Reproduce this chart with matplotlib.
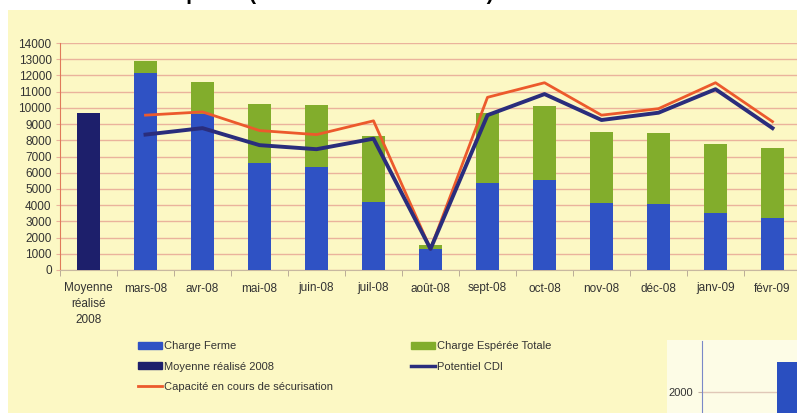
import matplotlib.pyplot as plt
import numpy as np
from matplotlib.patches import Rectangle
from matplotlib.lines import Line2D
from matplotlib.patches import Patch

plt.rcParams['font.family'] = ['Liberation Sans Narrow', 'Liberation Sans', 'DejaVu Sans']

categories = ["Moyenne\nréalisé\n2008", "mars-08", "avr-08", "mai-08", "juin-08", "juil-08",
              "août-08", "sept-08", "oct-08", "nov-08", "déc-08", "janv-09", "févr-09"]

moyenne_2008 = 9700
# months mars-08 .. févr-09
charge_ferme = [12150, 9600, 6600, 6350, 4200, 1300, 5350, 5550, 4150, 4050, 3500, 3200]
charge_totale = [12900, 11600, 10250, 10200, 8250, 1550, 9700, 10100, 8500, 8450, 7750, 7500]
capacite = [9550, 9750, 8600, 8350, 9200, 1300, 10650, 11550, 9550, 9950, 11550, 9150]
potentiel_cdi = [8350, 8750, 7700, 7450, 8100, 1300, 9550, 10850, 9250, 9700, 11150, 8750]

c_ferme = "#2f52c4"
c_moy = "#1d1f6b"
c_green = "#82ad2c"
c_cap = "#ec5a2c"
c_cdi = "#2a2d7c"
c_grid = "#eab39c"
bg = "#fcf8c4"

W, H = 797, 413
fig = plt.figure(figsize=(W / 100, H / 100), dpi=100)
fig.patch.set_facecolor("white")
fig.patches.append(Rectangle((8 / W, 0), 1, (H - 10) / H, transform=fig.transFigure,
                             facecolor=bg, edgecolor="none", zorder=-2))
# pale fragment of another chart, bottom right
fig.patches.append(Rectangle((667 / W, 0), 1, 73 / H, transform=fig.transFigure,
                             facecolor="#fdfce6", edgecolor="none", zorder=-1))

# clipped title at the very top
fig.text(0, 1.014, "Postes ouverts en partie (en attente de nécessité)", fontsize=15,
         fontweight="bold", family="Liberation Sans", va="center", ha="left", color="black")

ax = fig.add_axes([60 / W, 143 / H, 741 / W, 227 / H])
ax.set_facecolor("none")

months = np.arange(1, 13)
bar_w = 0.39
ax.bar(0, moyenne_2008, width=bar_w, color=c_moy, zorder=3)
ax.bar(months, charge_ferme, width=bar_w, color=c_ferme, zorder=3)
ax.bar(months, np.array(charge_totale) - np.array(charge_ferme), bottom=charge_ferme,
       width=bar_w, color=c_green, zorder=3)
ax.plot(months, capacite, color=c_cap, lw=2, zorder=4)
ax.plot(months, potentiel_cdi, color=c_cdi, lw=2.8, zorder=4)

ax.set_xlim(-0.5, 12.5)
ax.set_ylim(0, 14000)
ax.set_yticks(np.arange(0, 14001, 1000))
ax.yaxis.grid(True, color=c_grid, lw=1)
ax.set_axisbelow(True)
ax.set_xticks(np.arange(13))
ax.set_xticklabels(categories, fontsize=8.5, color="#333333", linespacing=1.4)
ax.set_xticks(np.arange(-0.5, 13, 1), minor=True)
ax.tick_params(axis="x", which="major", length=0, pad=9)
ax.tick_params(axis="x", which="minor", length=4, color="#b0a090", direction="out")
ax.tick_params(axis="y", labelsize=8.5, labelcolor="#333333", length=3, color=c_grid, pad=3)
for s in ["top", "right"]:
    ax.spines[s].set_visible(False)
ax.spines["left"].set_color("#e07a5a")
ax.spines["bottom"].set_color("#c8b8a0")

handles_left = [Patch(color=c_ferme), Patch(color=c_moy), Line2D([], [], color=c_cap, lw=2)]
labels_left = ["Charge Ferme", "Moyenne réalisé 2008", "Capacité en cours de sécurisation"]
handles_right = [Patch(color=c_green), Line2D([], [], color=c_cdi, lw=2.5)]
labels_right = ["Charge Espérée Totale", "Potentiel CDI"]
kw = dict(frameon=False, fontsize=8, handlelength=2.2, handleheight=0.6, handletextpad=0.1,
          labelspacing=0.95, labelcolor="#333333")
fig.legend(handles_left, labels_left, loc="upper left", bbox_to_anchor=(128 / W, 1 - 331 / H), **kw)
fig.legend(handles_right, labels_right, loc="upper left", bbox_to_anchor=(401 / W, 1 - 331 / H), **kw)

ins = fig.add_axes([702 / W, 0, 95 / W, 72 / H])
ins.set_facecolor("none")
ins.set_xlim(0, 95)
ins.set_ylim(0, 6860)
ins.bar([85], [4850], width=21, color="#2a4fc0")
ins.set_yticks([2000])
ins.set_xticks([])
ins.yaxis.grid(True, color="#e0c8b8", lw=1)
ins.set_axisbelow(True)
ins.tick_params(axis="y", labelsize=8, labelcolor="#333333", length=3, color="#c0b0a0")
for s in ["top", "right", "bottom"]:
    ins.spines[s].set_visible(False)
ins.spines["left"].set_color("#7a88c8")

fig.savefig("out.png", dpi=100)
